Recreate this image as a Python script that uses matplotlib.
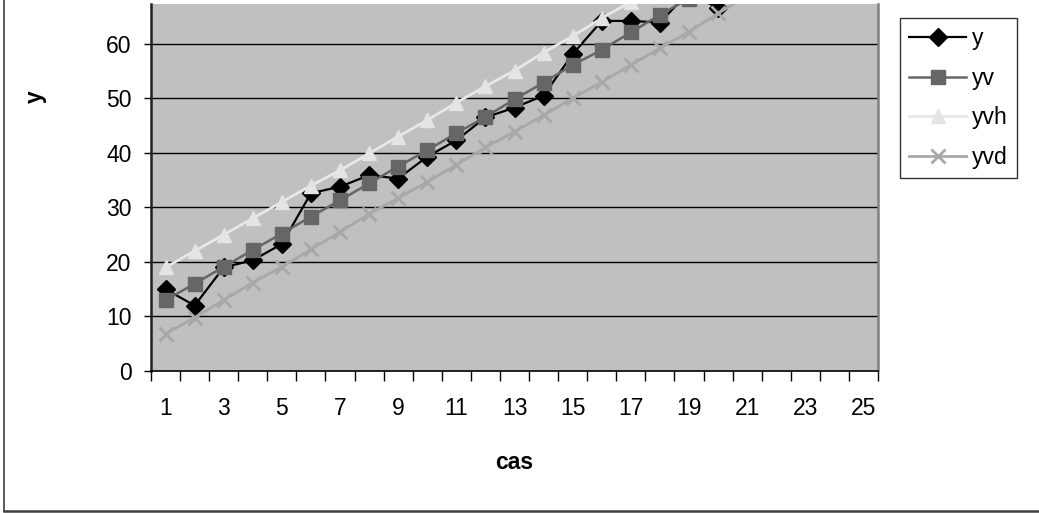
import matplotlib
matplotlib.use("Agg")
import matplotlib.pyplot as plt
from matplotlib.lines import Line2D

plt.rcParams['font.family'] = ['Liberation Sans', 'DejaVu Sans']

# ---- data ----
categories = list(range(1, 26))
tick_labels = [str(c) for c in categories[::2]]
y = [15, 12, 19, 20.3, 23.3, 32.6, 33.8, 35.9, 35.3, 39.3, 42.3, 46.5, 48.3,
     50.5, 58.1, 64.2, 64.2, 63.9, 69.5, 66.5]
yv = [13, 16, 19.1, 22.2, 25.2, 28.3, 31.3, 34.4, 37.5, 40.5, 43.6, 46.6, 49.8,
      52.9, 56.1, 58.9, 62.1, 65.3, 68.3, 71.4]
yvh = [19, 22, 25, 28, 31, 34, 36.8, 39.9, 43, 46, 49.2, 52.2, 55.1, 58.4,
       61.4, 64.7, 67.7, 71, 74, 77]
yvd = [6.8, 9.8, 13, 16.2, 19.1, 22.3, 25.5, 28.8, 31.7, 34.7, 37.8, 41, 43.9,
       46.9, 50, 53, 56.1, 59.2, 62.2, 65.6, 68.7]
y_ticks = [0, 10, 20, 30, 40, 50, 60]

W, H = 1039, 513
fig = plt.figure(figsize=(W / 100, H / 100), dpi=100)
fig.patch.set_facecolor('white')

left, right, top, bottom = 151, 878, 4, 371
ax = fig.add_axes([left / W, 1 - bottom / H, (right - left) / W, (bottom - top) / H])
ax.set_facecolor('#C0C0C0')

ax.set_xlim(0.5, 25.5)
ax.set_ylim(0, 67.3)

for v in y_ticks[1:]:
    ax.axhline(v, color='black', lw=1.0, zorder=1)

fs = 16.5
series = [
    ('y', y, '#000000', '#000000', 'D', 9.5, 1.6),
    ('yv', yv, '#666666', '#666666', 's', 10, 1.8),
    ('yvh', yvh, '#E8E8E8', '#E4E4E4', '^', 10.5, 2.0),
    ('yvd', yvd, '#A8A8A8', '#A8A8A8', 'x', 10, 2.0),
]
handles = []
for name, vals, lc, mc, mk, ms, lw in series:
    xs = categories[:len(vals)]
    mew = 2.0 if mk == 'x' else 1
    ax.plot(xs, vals, color=lc, lw=lw, marker=mk, ms=ms, mfc=mc, mec=mc,
            mew=mew, zorder=3, clip_on=True)
    handles.append(Line2D([], [], color=lc, lw=lw, marker=mk, ms=ms, mfc=mc,
                          mec=mc, mew=mew))

# axes styling
ax.spines['top'].set_visible(False)
ax.spines['left'].set_color('#202020')
ax.spines['left'].set_linewidth(1.8)
ax.spines['right'].set_color('#808080')
ax.spines['right'].set_linewidth(1.8)
ax.spines['bottom'].set_color('black')
ax.spines['bottom'].set_linewidth(1.2)

ax.set_yticks(y_ticks)
ax.set_yticklabels([str(v) for v in y_ticks], fontsize=fs)
ax.tick_params(axis='y', direction='out', length=5, width=1, color='black', pad=9)

bounds = [c - 0.5 for c in categories] + [categories[-1] + 0.5]
ax.set_xticks(bounds)
ax.set_xticklabels([''] * len(bounds))
ax.tick_params(axis='x', which='major', direction='out', length=7, width=1, color='black')
ax.set_xticks(categories[::2], minor=True)
ax.set_xticklabels(tick_labels, minor=True, fontsize=fs)
ax.tick_params(axis='x', which='minor', length=0, pad=19)

ax.set_ylabel('y', fontsize=fs, fontweight='bold')
ax.yaxis.set_label_coords((47 - left) / (right - left), (bottom - 97) / (bottom - top))
ax.set_xlabel('cas', fontsize=fs, fontweight='bold', labelpad=22)

leg = fig.legend(handles, ['y', 'yv', 'yvh', 'yvd'], loc='upper left',
                 bbox_to_anchor=(900 / W, 1 - 18 / H), bbox_transform=fig.transFigure,
                 fontsize=fs, frameon=True, fancybox=False, edgecolor='black',
                 handlelength=2.5, handletextpad=0.25, labelspacing=0.72,
                 borderpad=0.4, borderaxespad=0)
leg.get_frame().set_linewidth(1.0)

# outer chart border (left and bottom visible)
fig.add_artist(Line2D([4 / W, 4 / W], [1 - 511 / H, 1.0], transform=fig.transFigure,
                      color='#404040', lw=1.2))
fig.add_artist(Line2D([4 / W, 1.0], [1 - 511 / H, 1 - 511 / H], transform=fig.transFigure,
                      color='#404040', lw=1.8))

fig.savefig('out.png', dpi=100)
